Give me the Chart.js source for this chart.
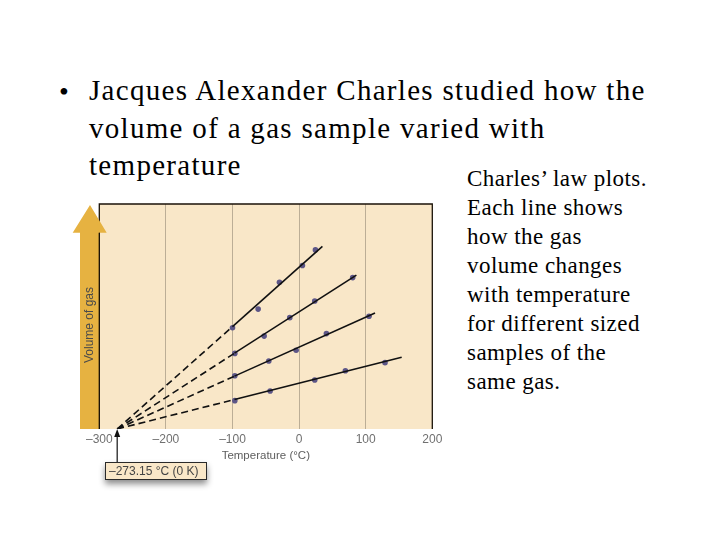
<!DOCTYPE html>
<html>
<head>
<meta charset="utf-8">
<script src="https://cdn.jsdelivr.net/npm/chart.js@4.4.1/dist/chart.umd.min.js"></script>
<style>
  body { margin: 0; background: #fff; }
  #slide { position: relative; width: 720px; height: 540px; overflow: hidden; }
  .serif { position: absolute; font-family: "Liberation Serif", "Times New Roman", serif; color: #000; white-space: nowrap; }
  #bullet { left: 59px; top: 73px; font-size: 28px; line-height: 37.5px; }
  #bulletText { left: 89px; top: 72px; font-size: 29px; line-height: 37.5px; letter-spacing: 1.3px; }
  #caption { left: 467px; top: 164px; font-size: 23px; line-height: 29px; letter-spacing: 0.45px; }
  #chartBox { position: absolute; left: 60px; top: 190px; width: 400px; height: 310px; }
</style>
</head>
<body>
<div id="slide">
  <div id="bullet" class="serif">•</div>
  <div id="bulletText" class="serif">Jacques Alexander Charles studied how the<br>volume of a gas sample varied with<br>temperature</div>
  <div id="caption" class="serif">Charles’ law plots.<br>Each line shows<br>how the gas<br>volume changes<br>with temperature<br>for different sized<br>samples of the<br>same gas.</div>
  <div id="chartBox"><canvas id="chart" width="400" height="310"></canvas></div>
</div>
<script>
// temperature axis (°C)
var xTicks = [-300, -200, -100, 0, 100, 200];
var absZero = -273.15;

// measured points, one pair of arrays per gas sample (volume in arbitrary units)
var sample1X = [-100, -61.5, -29.5, 5, 24.5];
var sample1Y = [4.50, 5.33, 6.52, 7.27, 7.96];
var sample2X = [-96.5, -52.5, -14, 23.5, 80.5];
var sample2Y = [3.36, 4.13, 4.95, 5.69, 6.73];
var sample3X = [-96.5, -45.5, -4.5, 41, 105];
var sample3Y = [2.37, 3.02, 3.50, 4.24, 5.01];
var sample4X = [-96.5, -43.5, 23.5, 69.5, 129];
var sample4Y = [1.26, 1.69, 2.18, 2.59, 2.95];

// fitted solid lines: start and end of each
var fitStartX = [-100, -97, -97, -97];
var fitStartY = [4.55, 3.37, 2.35, 1.31];
var fitEndX = [35, 86, 114, 154];
var fitEndY = [8.12, 6.84, 5.16, 3.19];

var pointsX = [sample1X, sample2X, sample3X, sample4X];
var pointsY = [sample1Y, sample2Y, sample3Y, sample4Y];

var toXY = function(xs, ys) {
    var out = [];
    for (var i = 0; i < xs.length; i++) {
        out.push({x: xs[i], y: ys[i]});
    }
    return out;
};

var datasets = [];
for (var s = 0; s < 4; s++) {
    // extrapolation back to absolute zero
    datasets.push({
        data: toXY([absZero, fitStartX[s]], [0, fitStartY[s]]),
        showLine: true, pointRadius: 0, borderColor: '#111', borderWidth: 1.6, borderDash: [7, 4]
    });
    datasets.push({
        data: toXY([fitStartX[s], fitEndX[s]], [fitStartY[s], fitEndY[s]]),
        showLine: true, pointRadius: 0, borderColor: '#111', borderWidth: 1.6
    });
    datasets.push({
        data: toXY(pointsX[s], pointsY[s]),
        showLine: false, pointRadius: 2.8, pointBackgroundColor: '#5d5687', pointBorderWidth: 0
    });
}

var dash = function(v) {
    return String(v).replace('-', '\u2013');
};

var slideDecor = {
    id: 'slideDecor',
    beforeDraw: function(chart) {
        var ctx = chart.ctx, a = chart.chartArea;
        ctx.save();
        ctx.fillStyle = '#f9e7c8';
        ctx.fillRect(a.left, a.top, a.right - a.left, a.bottom - a.top);
        ctx.restore();
    },
    afterDraw: function(chart) {
        var ctx = chart.ctx, a = chart.chartArea;
        var xs = chart.scales.x;
        ctx.save();

        // frame: top, left, right
        ctx.strokeStyle = '#1a1208';
        ctx.lineWidth = 1.3;
        ctx.beginPath();
        ctx.moveTo(a.left, a.bottom);
        ctx.lineTo(a.left, a.top);
        ctx.lineTo(a.right, a.top);
        ctx.lineTo(a.right, a.bottom);
        ctx.stroke();

        // gold "volume" arrow
        ctx.fillStyle = '#e6b241';
        ctx.beginPath();
        ctx.moveTo(a.left - 19.3, a.bottom);
        ctx.lineTo(a.left - 19.3, a.top + 28.7);
        ctx.lineTo(a.left - 26.6, a.top + 28.7);
        ctx.lineTo(a.left - 9.3, a.top + 1);
        ctx.lineTo(a.left + 7.4, a.top + 28.7);
        ctx.lineTo(a.left, a.top + 28.7);
        ctx.lineTo(a.left, a.bottom);
        ctx.closePath();
        ctx.fill();
        ctx.beginPath();
        ctx.strokeStyle = '#1a1208';
        ctx.moveTo(a.left, a.top + 28.7);
        ctx.lineTo(a.left, a.bottom);
        ctx.stroke();

        ctx.translate(a.left - 9.8, 135);
        ctx.rotate(-Math.PI / 2);
        ctx.fillStyle = '#4a4a4a';
        ctx.font = '12px "Liberation Sans", Arial, sans-serif';
        ctx.textAlign = 'center';
        ctx.textBaseline = 'middle';
        ctx.fillText('Volume of gas', 0, 0);
        ctx.setTransform(1, 0, 0, 1, 0, 0);

        // absolute zero callout
        var px = xs.getPixelForValue(absZero);
        var bx = 45, by = 272, bw = 102, bh = 18;
        ctx.save();
        ctx.shadowColor = 'rgba(0,0,0,0.45)';
        ctx.shadowBlur = 6;
        ctx.shadowOffsetY = 4;
        ctx.fillStyle = '#f9e7c8';
        ctx.fillRect(bx, by, bw, bh);
        ctx.restore();
        ctx.strokeStyle = '#2a2a2a';
        ctx.lineWidth = 1;
        ctx.strokeRect(bx + 0.5, by + 0.5, bw - 1, bh - 1);
        ctx.fillStyle = '#444';
        ctx.font = '12px "Liberation Sans", Arial, sans-serif';
        ctx.textAlign = 'left';
        ctx.textBaseline = 'middle';
        ctx.fillText('\u2013273.15 \u00b0C (0 K)', bx + 4, by + bh / 2 + 0.5);

        ctx.strokeStyle = '#111';
        ctx.lineWidth = 1.2;
        ctx.beginPath();
        ctx.moveTo(px, by);
        ctx.lineTo(px, a.bottom + 6);
        ctx.stroke();
        ctx.fillStyle = '#111';
        ctx.beginPath();
        ctx.moveTo(px, a.bottom);
        ctx.lineTo(px - 3, a.bottom + 8);
        ctx.lineTo(px + 3, a.bottom + 8);
        ctx.closePath();
        ctx.fill();
        ctx.restore();
    }
};

var config = {
    type: 'scatter',
    data: { datasets: datasets },
    options: {
        responsive: false,
        animation: false,
        layout: { padding: { left: 39.3, right: 27.7, top: 14, bottom: 36.8 } },
        plugins: { legend: { display: false }, tooltip: { enabled: false } },
        scales: {
            x: {
                type: 'linear',
                min: xTicks[0],
                max: xTicks[xTicks.length - 1],
                afterBuildTicks: function(scale) {
                    scale.ticks = xTicks.map(function(v) { return {value: v}; });
                },
                border: { display: false },
                grid: {
                    drawTicks: false,
                    lineWidth: 1,
                    color: function(c) {
                        var v = c.tick && c.tick.value;
                        return (v === xTicks[0] || v === xTicks[xTicks.length - 1]) ? 'rgba(0,0,0,0)' : '#bcae96';
                    }
                },
                ticks: {
                    padding: 3,
                    color: '#707070',
                    font: { family: '"Liberation Sans", Arial, sans-serif', size: 12 },
                    callback: function(v) { return dash(v); }
                },
                title: {
                    display: true,
                    text: 'Temperature (\u00b0C)',
                    color: '#5e5e5e',
                    padding: { top: 0, bottom: 0 },
                    font: { family: '"Liberation Sans", Arial, sans-serif', size: 11.5 }
                }
            },
            y: { type: 'linear', min: 0, max: 10, display: false }
        }
    },
    plugins: [slideDecor]
};

window.myChart = new Chart(document.getElementById('chart').getContext('2d'), config);
</script>
</body>
</html>
